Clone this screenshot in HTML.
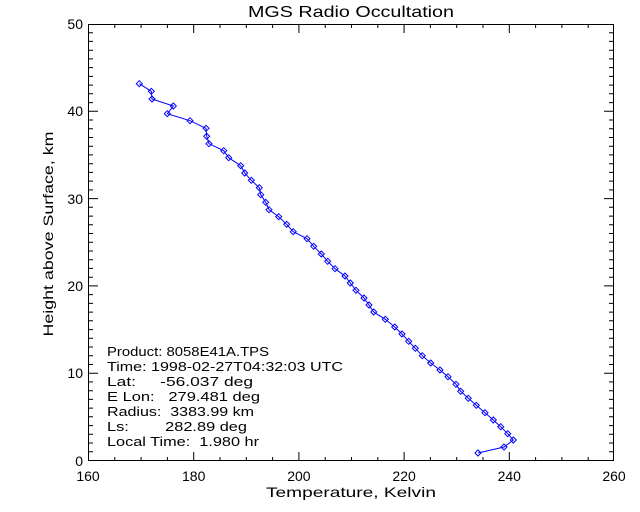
<!DOCTYPE html>
<html><head><meta charset="utf-8"><style>
html,body{margin:0;padding:0;background:#fff;}
svg{display:block;}
text{font-family:"Liberation Sans",sans-serif;fill:#000;}
</style></head><body>
<svg width="640" height="512" viewBox="0 0 640 512" xmlns="http://www.w3.org/2000/svg">
<defs>
<marker id="d" markerWidth="8" markerHeight="8" refX="4" refY="4" markerUnits="userSpaceOnUse">
<path d="M4 1 L7 4 L4 7 L1 4 Z" fill="none" stroke="#00f" stroke-width="1"/>
</marker>
</defs>
<rect x="0" y="0" width="640" height="512" fill="#fff"/>
<text x="351" y="17" font-size="16" text-anchor="middle" textLength="206" lengthAdjust="spacingAndGlyphs">MGS Radio Occultation</text>
<rect x="88.5" y="24.5" width="525" height="436" fill="none" stroke="#000" stroke-width="1"/>
<g stroke="#000" stroke-width="1">
<!-- x major ticks -->
<path d="M193.7 461v-9M298.9 461v-9M404.1 461v-9M509.3 461v-9M193.7 24v9M298.9 24v9M404.1 24v9M509.3 24v9"/>
<!-- x minor ticks -->
<path d="M114.8 461v-4M141.1 461v-4M167.4 461v-4M220 461v-4M246.3 461v-4M272.6 461v-4M325.2 461v-4M351.5 461v-4M377.8 461v-4M430.4 461v-4M456.7 461v-4M483 461v-4M535.6 461v-4M561.9 461v-4M588.2 461v-4
M114.8 24v4M141.1 24v4M167.4 24v4M220 24v4M246.3 24v4M272.6 24v4M325.2 24v4M351.5 24v4M377.8 24v4M430.4 24v4M456.7 24v4M483 24v4M535.6 24v4M561.9 24v4M588.2 24v4"/>
<!-- y major ticks -->
<path d="M88 373.2h10M88 285.9h10M88 198.6h10M88 111.3h10M614 373.2h-10M614 285.9h-10M614 198.6h-10M614 111.3h-10"/>
</g>
<g stroke="#000" stroke-width="1" id="ym">
<path d="M88 451.8h5M88 443.0h5M88 434.3h5M88 425.6h5M88 416.8h5M88 408.1h5M88 399.4h5M88 390.7h5M88 381.9h5
M88 364.5h5M88 355.7h5M88 347.0h5M88 338.3h5M88 329.6h5M88 320.8h5M88 312.1h5M88 303.4h5M88 294.6h5
M88 277.2h5M88 268.4h5M88 259.7h5M88 251.0h5M88 242.3h5M88 233.5h5M88 224.8h5M88 216.1h5M88 207.3h5
M88 189.9h5M88 181.1h5M88 172.4h5M88 163.7h5M88 154.9h5M88 146.2h5M88 137.5h5M88 128.8h5M88 120.0h5
M88 102.6h5M88 93.8h5M88 85.1h5M88 76.4h5M88 67.6h5M88 58.9h5M88 50.2h5M88 41.4h5M88 32.7h5
M614 451.8h-5M614 443.0h-5M614 434.3h-5M614 425.6h-5M614 416.8h-5M614 408.1h-5M614 399.4h-5M614 390.7h-5M614 381.9h-5
M614 364.5h-5M614 355.7h-5M614 347.0h-5M614 338.3h-5M614 329.6h-5M614 320.8h-5M614 312.1h-5M614 303.4h-5M614 294.6h-5
M614 277.2h-5M614 268.4h-5M614 259.7h-5M614 251.0h-5M614 242.3h-5M614 233.5h-5M614 224.8h-5M614 216.1h-5M614 207.3h-5
M614 189.9h-5M614 181.1h-5M614 172.4h-5M614 163.7h-5M614 154.9h-5M614 146.2h-5M614 137.5h-5M614 128.8h-5M614 120.0h-5
M614 102.6h-5M614 93.8h-5M614 85.1h-5M614 76.4h-5M614 67.6h-5M614 58.9h-5M614 50.2h-5M614 41.4h-5M614 32.7h-5"/>
</g>
<g font-size="14" text-anchor="middle">
<text x="88" y="481">160</text>
<text x="193.7" y="481">180</text>
<text x="298.9" y="481">200</text>
<text x="404.1" y="481">220</text>
<text x="509.3" y="481">240</text>
<text x="614" y="481">260</text>
</g>
<g font-size="14" text-anchor="end">
<text x="83" y="466">0</text>
<text x="83" y="378">10</text>
<text x="83" y="291">20</text>
<text x="83" y="204">30</text>
<text x="83" y="116">40</text>
<text x="83" y="29">50</text>
</g>
<text x="351" y="497" font-size="14" text-anchor="middle" textLength="170" lengthAdjust="spacingAndGlyphs">Temperature, Kelvin</text>
<text transform="translate(53,234) rotate(-90)" font-size="14" text-anchor="middle" textLength="205" lengthAdjust="spacingAndGlyphs">Height above Surface, km</text>
<g font-size="13">
<text x="107" y="356" textLength="162" lengthAdjust="spacingAndGlyphs">Product: 8058E41A.TPS</text>
<text x="107" y="371" textLength="236" lengthAdjust="spacingAndGlyphs">Time: 1998-02-27T04:32:03 UTC</text>
<text x="107" y="386" textLength="146" lengthAdjust="spacingAndGlyphs" xml:space="preserve">Lat:     -56.037 deg</text>
<text x="107" y="401" textLength="153" lengthAdjust="spacingAndGlyphs" xml:space="preserve">E Lon:   279.481 deg</text>
<text x="107" y="416" textLength="147" lengthAdjust="spacingAndGlyphs" xml:space="preserve">Radius:  3383.99 km</text>
<text x="107" y="431" textLength="140" lengthAdjust="spacingAndGlyphs" xml:space="preserve">Ls:        282.89 deg</text>
<text x="107" y="446" textLength="152" lengthAdjust="spacingAndGlyphs" xml:space="preserve">Local Time:  1.980 hr</text>
</g>
<polyline fill="none" stroke="#00f" stroke-width="1" marker-start="url(#d)" marker-mid="url(#d)" marker-end="url(#d)"
points="139.3,83.7 151.3,91.3 152,99 173.3,106 167.3,113.7 190,120.7 206,128.3 206.7,136.3 209,143.7 223.7,150.7 228.7,157.7 240.7,165.7 244.7,173 251.3,180.3 259.3,187.7 260.7,194.7 265.7,202.3 269,209.7 278.7,216.7 286.7,224.3 293.2,231.7 307,238.7 313.7,246.3 321.3,254 327.7,261.3 335,268.7 345,276 350.3,283 356,290.3 364,298 369,305 373.7,312 385.3,319.3 394.7,327 402,334 408.7,341.3 415.3,348.3 422.3,355.7 430.7,363 440,370 448,376.7 456,384.3 460.7,391.3 468.3,398.3 476.3,405.3 485,412.7 493.3,420 500.7,426.7 507.7,433.7 513.3,440 504,447 478,453"/>
</svg>
</body></html>
